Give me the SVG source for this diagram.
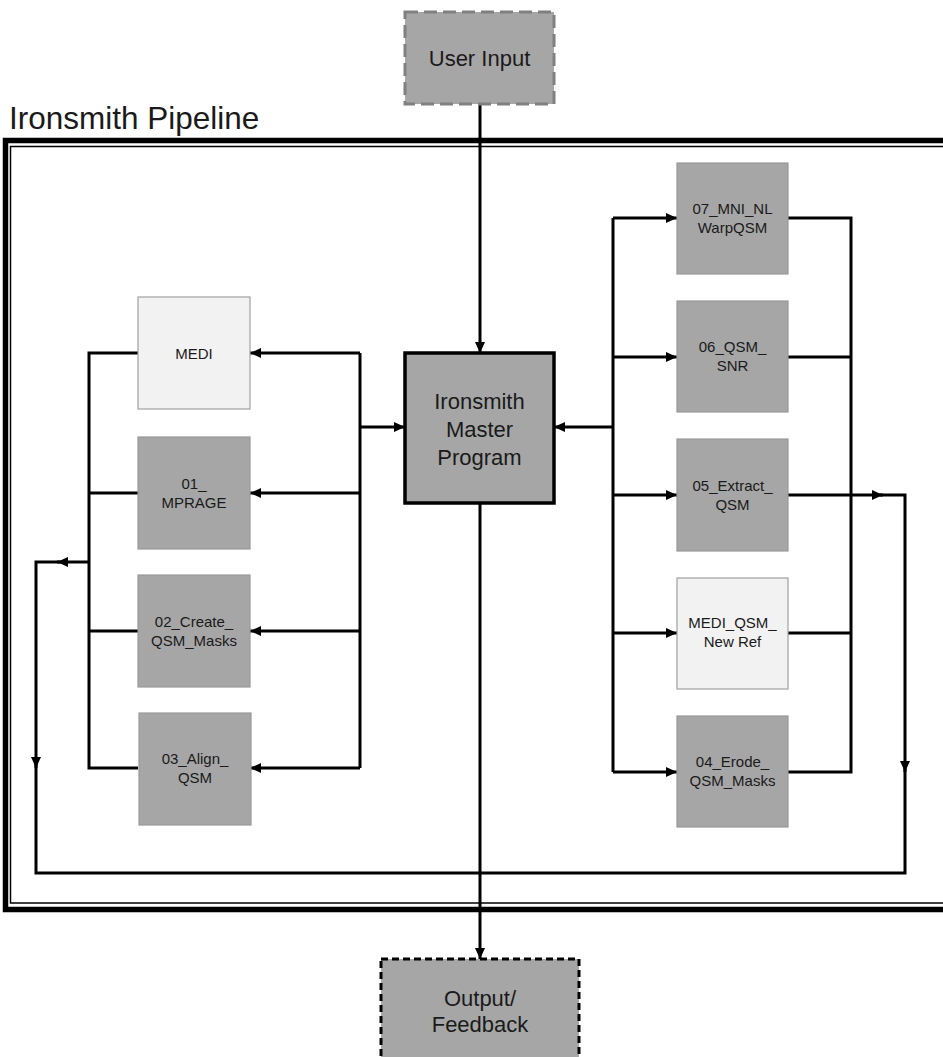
<svg xmlns="http://www.w3.org/2000/svg" width="943" height="1057" viewBox="0 0 943 1057">
<defs>
<marker id="ah" markerUnits="userSpaceOnUse" markerWidth="12" markerHeight="12" refX="11" refY="5" orient="auto" viewBox="0 0 12 10">
<path d="M0,0 L11,5 L0,10 z" fill="#000"/>
</marker>
<style>
.dk{fill:#a6a6a6;stroke:#999;stroke-width:1.2}
.lt{fill:#f2f2f2;stroke:#a0a0a0;stroke-width:1.2}
.t{font-family:"Liberation Sans",Arial,sans-serif;font-size:15px;fill:#1a1a1a;text-anchor:middle}
.tb{font-family:"Liberation Sans",Arial,sans-serif;font-size:22px;fill:#1a1a1a;text-anchor:middle}
.c{fill:none;stroke:#000;stroke-width:3}
.ca{fill:none;stroke:#000;stroke-width:3;marker-end:url(#ah)}
</style>
</defs>
<rect width="943" height="1057" fill="#fff"/>
<g id="pipeline-frame">
<text x="9" y="129" font-family="'Liberation Sans',Arial,sans-serif" font-size="31.5" fill="#1a1a1a">Ironsmith Pipeline</text>
<rect x="5.5" y="140.5" width="960" height="769" fill="none" stroke="#000" stroke-width="5.5"/>
<rect x="10.5" y="146.5" width="960" height="756.5" fill="none" stroke="#000" stroke-width="1.5"/>
</g>
<g id="connectors">
<path class="ca" d="M480,104 L480,353"/>
<path class="ca" d="M480,503 L480,959"/>
<path class="c" d="M138,353 L89,353 L89,768 L138,768"/>
<path class="c" d="M138,493 L89,493"/>
<path class="c" d="M138,631 L89,631"/>
<path class="c" d="M360,353 L360,768"/>
<path class="ca" d="M360,353 L250,353"/>
<path class="ca" d="M360,493 L250,493"/>
<path class="ca" d="M360,631 L250,631"/>
<path class="ca" d="M360,768 L250,768"/>
<path class="ca" d="M360,427 L405,427"/>
<path class="c" d="M613,218 L613,772"/>
<path class="ca" d="M613,218 L677,218"/>
<path class="ca" d="M613,357 L677,357"/>
<path class="ca" d="M613,495 L677,495"/>
<path class="ca" d="M613,633 L677,633"/>
<path class="ca" d="M613,772 L677,772"/>
<path class="ca" d="M613,427 L554,427"/>
<path class="c" d="M788,218 L851,218 L851,772 L788,772"/>
<path class="c" d="M788,357 L851,357"/>
<path class="c" d="M788,633 L851,633"/>
<path class="ca" d="M788,495 L883,495"/>
<path class="ca" d="M880,495 L905,495 L905,772"/>
<path class="c" d="M905,768 L905,873 L36,873 L36,764"/>
<path class="ca" d="M89,562 L57,562"/>
<path class="ca" d="M60,562 L36,562 L36,768"/>
</g>
<g id="user-input">
<rect x="405" y="12" width="149" height="92" fill="#a6a6a6" stroke="#808080" stroke-width="3" stroke-dasharray="13,6"/>
<text class="tb" x="479.5" y="66">User Input</text>
</g>
<g id="master">
<rect x="405" y="353" width="149" height="150" fill="#a6a6a6" stroke="#000" stroke-width="3.5"/>
<text class="tb" x="479.5" y="409">Ironsmith</text>
<text class="tb" x="479.5" y="437">Master</text>
<text class="tb" x="479.5" y="465">Program</text>
</g>
<g id="output">
<rect x="381" y="959" width="198" height="120" fill="#a6a6a6" stroke="#000" stroke-width="3" stroke-dasharray="7,4"/>
<text class="tb" x="480" y="1006">Output/</text>
<text class="tb" x="480" y="1032">Feedback</text>
</g>
<g id="medi">
<rect class="lt" x="138" y="297" width="112" height="112"/>
<text class="t" x="194" y="359">MEDI</text>
</g>
<g id="n01">
<rect class="dk" x="138" y="437" width="112" height="112"/>
<text class="t" x="194" y="489">01_</text>
<text class="t" x="194" y="508">MPRAGE</text>
</g>
<g id="n02">
<rect class="dk" x="138" y="575" width="112" height="112"/>
<text class="t" x="194" y="627">02_Create_</text>
<text class="t" x="194" y="646">QSM_Masks</text>
</g>
<g id="n03">
<rect class="dk" x="139" y="713" width="112" height="112"/>
<text class="t" x="195" y="764">03_Align_</text>
<text class="t" x="195" y="783">QSM</text>
</g>
<g id="n07">
<rect class="dk" x="677" y="163" width="111" height="111"/>
<text class="t" x="732.5" y="214">07_MNI_NL</text>
<text class="t" x="732.5" y="233">WarpQSM</text>
</g>
<g id="n06">
<rect class="dk" x="677" y="301" width="111" height="111"/>
<text class="t" x="732.5" y="352">06_QSM_</text>
<text class="t" x="732.5" y="371">SNR</text>
</g>
<g id="n05">
<rect class="dk" x="677" y="439" width="111" height="112"/>
<text class="t" x="732.5" y="491">05_Extract_</text>
<text class="t" x="732.5" y="510">QSM</text>
</g>
<g id="medi-qsm">
<rect class="lt" x="677" y="578" width="111" height="111"/>
<text class="t" x="732.5" y="628">MEDI_QSM_</text>
<text class="t" x="732.5" y="647">New Ref</text>
</g>
<g id="n04">
<rect class="dk" x="677" y="716" width="111" height="111"/>
<text class="t" x="732.5" y="767">04_Erode_</text>
<text class="t" x="732.5" y="786">QSM_Masks</text>
</g>
</svg>
